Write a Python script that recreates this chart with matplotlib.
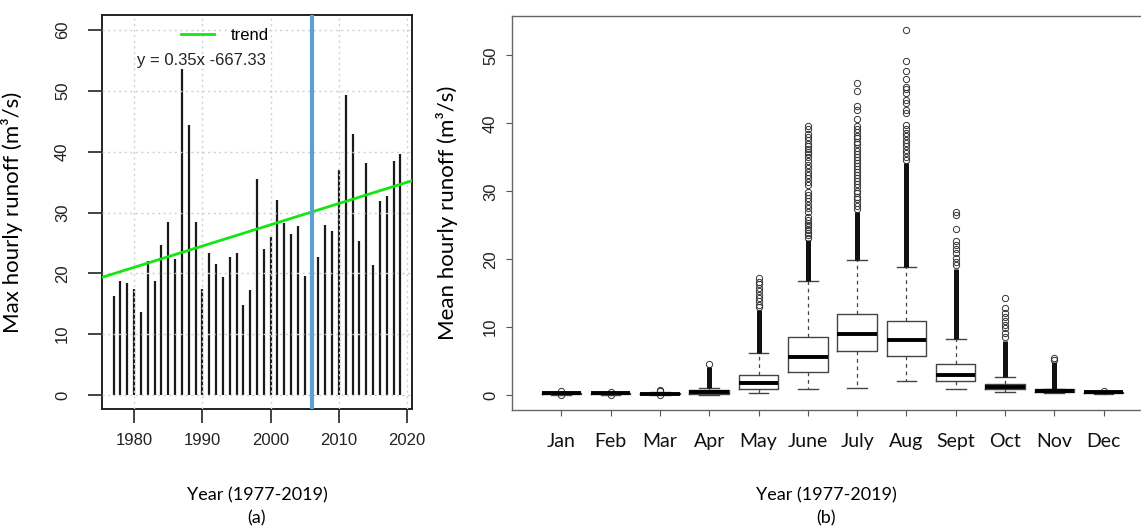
import matplotlib
matplotlib.use("Agg")
from matplotlib import pyplot as plt
from matplotlib.lines import Line2D

# ---- panel (a): annual max hourly runoff ----
years = list(range(1977, 2020))
max_runoff = [16.3, 18.75, 18.5, 17.4, 13.6, 22.0, 18.75, 24.6, 28.4, 22.3,
              53.6, 44.4, 28.5, 17.4, 23.3, 21.5, 19.4, 22.75, 23.3, 14.8,
              17.3, 35.6, 24.0, 26.0, 32.1, 28.3, 26.4, 27.8, 19.5, 27.4,
              22.7, 28.0, 26.9, 37.0, 49.3, 43.0, 25.3, 38.2, 21.4, 31.9,
              32.7, 38.5, 39.6]
trend_slope = 0.35
trend_intercept = -672.0
trend_text = "y = 0.35x -667.33"
change_year = 2006

# ---- panel (b): monthly mean hourly runoff boxplots ----
months = ["Jan", "Feb", "Mar", "Apr", "May", "June", "July", "Aug", "Sept", "Oct", "Nov", "Dec"]
q1 = [0.15, 0.15, 0.12, 0.15, 0.83, 3.34, 6.43, 5.70, 2.10, 0.88, 0.44, 0.30]
med = [0.25, 0.25, 0.20, 0.40, 1.72, 5.65, 9.00, 8.05, 3.00, 1.13, 0.64, 0.40]
q3 = [0.32, 0.32, 0.28, 0.70, 3.00, 8.60, 11.90, 10.95, 4.60, 1.57, 0.83, 0.50]
whislo = [0.08, 0.08, 0.05, 0.05, 0.25, 0.85, 1.00, 2.06, 0.83, 0.44, 0.30, 0.22]
whishi = [0.45, 0.45, 0.45, 1.08, 6.23, 16.84, 19.85, 18.80, 8.25, 2.60, 0.95, 0.62]
# upper end of the solid run of overlapping outliers (None = no solid run)
dense_top = [None, None, None, 4.2, 12.5, 22.8, 27.0, 34.1, 18.6, 7.9, 4.9, None]
fliers = [
    [0.02, 0.58],
    [0.02, 0.52],
    [0.0, 0.55, 0.8],
    [4.5],
    [12.9, 13.3, 13.8, 14.3, 14.8, 15.3, 15.8, 16.3, 16.7, 17.2],
    [23.1, 23.5, 23.9, 24.3, 24.7, 25.0, 25.4, 25.8, 26.2, 27.0, 27.5, 28.0,
     28.5, 29.0, 29.5, 29.9, 30.9, 31.4, 31.9, 32.4, 32.9, 33.4, 33.9, 34.4,
     35.1, 35.5, 35.8, 36.2, 36.6, 37.0, 37.5, 38.0, 38.5, 39.1, 39.6],
    [27.4, 27.9, 28.3, 28.8, 29.2, 29.7, 30.1, 30.6, 31.0, 31.5, 31.9, 32.4,
     32.8, 33.3, 33.7, 34.2, 34.6, 35.1, 35.5, 36.0, 36.4, 36.9, 37.3, 37.8,
     38.2, 38.7, 39.1, 39.6, 40.7, 42.0, 42.6, 44.8, 45.95],
    [34.6, 35.1, 35.6, 36.1, 36.6, 37.1, 37.6, 38.1, 38.6, 39.2, 39.7, 41.5,
     41.9, 43.0, 43.5, 44.4, 45.0, 45.3, 46.5, 47.7, 49.2, 53.7],
    [19.1, 19.6, 20.2, 20.9, 21.5, 22.1, 22.7, 24.5, 26.5, 26.9],
    [8.6, 9.1, 9.8, 10.3, 10.9, 11.5, 12.1, 12.8, 14.3],
    [5.2, 5.4],
    [0.65],
]

W, H = 1141, 527
fig = plt.figure(figsize=(W / 100, H / 100), dpi=100)

num_font = "Liberation Sans"
lbl_font = "Lato"


def px(x0, y_top, x1, y_bot):
    return [x0 / W, 1 - y_bot / H, (x1 - x0) / W, (y_bot - y_top) / H]


# ---------------- panel (a) ----------------
ax1 = fig.add_axes(px(102, 15, 412, 409))
ax1.set_xlim(1975.3, 2020.7)
ax1.set_ylim(-2.3, 62.5)
ax1.vlines(years, 0, max_runoff, color="#1a1a1a", lw=1.6, zorder=2)
ax1.set_xticks([1980, 1990, 2000, 2010, 2020])
ax1.set_yticks([0, 10, 20, 30, 40, 50, 60])
ax1.grid(True, color="#d0d0d0", linestyle=(0, (1.5, 2.5)), lw=1.0, zorder=2.5)
ax1.set_axisbelow(False)
x0, x1 = ax1.get_xlim()
ax1.plot([x0, x1], [trend_slope * x0 + trend_intercept, trend_slope * x1 + trend_intercept],
         color="#14e614", lw=2, zorder=4)
ax1.axvline(change_year, color="#5b9fd5", lw=3, zorder=5)
for s in ax1.spines.values():
    s.set_linewidth(1.4)
    s.set_color("#222222")
ax1.tick_params(axis="x", length=10, width=1.2, pad=7, labelsize=12, colors="#222222")
ax1.tick_params(axis="y", length=10, width=1.2, pad=13, labelsize=12, colors="#222222",
                labelrotation=90)
for lab in ax1.get_xticklabels() + ax1.get_yticklabels():
    lab.set_fontfamily(num_font)
for lab in ax1.get_yticklabels():
    lab.set_va("center")
ax1.set_ylabel("Max hourly runoff (m\u00b3/s)", fontsize=16, fontfamily=lbl_font)
ax1.yaxis.set_label_coords((23 - 102) / 310, 0.5)

ax1.legend(handles=[Line2D([], [], color="#14e614", lw=2)], labels=["trend"],
           loc="center", bbox_to_anchor=(225 / W, 1 - 35 / H), bbox_transform=fig.transFigure,
           frameon=False, handlelength=2.0, handletextpad=1.0,
           prop={"family": num_font, "size": 12})
fig.text(201 / W, 1 - 61 / H, trend_text, ha="center", va="center",
         fontsize=12, fontfamily=num_font, color="#222222")

fig.text(257 / W, 1 - 495 / H, "Year (1977-2019)", ha="center", va="center",
         fontsize=13, fontfamily=lbl_font)
fig.text(257 / W, 1 - 518 / H, "(a)", ha="center", va="center",
         fontsize=13, fontfamily=lbl_font)

# ---------------- panel (b) ----------------
ax2 = fig.add_axes(px(512, 16, 512 + 13 * 49.3, 410))
positions = list(range(1, len(months) + 1))
stats = []
for i in range(len(months)):
    stats.append({"med": med[i], "q1": q1[i], "q3": q3[i],
                  "whislo": whislo[i], "whishi": whishi[i], "fliers": fliers[i]})
ax2.bxp(stats, positions=positions, widths=0.8, showfliers=True,
        boxprops=dict(color="#444444", lw=1.0),
        medianprops=dict(color="black", lw=2.8),
        whiskerprops=dict(color="#444444", lw=0.9, linestyle=(0, (3, 3))),
        capprops=dict(color="#444444", lw=1.0),
        flierprops=dict(marker="o", markerfacecolor="none", markeredgecolor="#333333",
                        markersize=4.5, markeredgewidth=0.7))
band_x = [positions[i] for i in range(len(months)) if dense_top[i] is not None]
band_lo = [whishi[i] for i in range(len(months)) if dense_top[i] is not None]
band_hi = [dense_top[i] for i in range(len(months)) if dense_top[i] is not None]
ax2.vlines(band_x, band_lo, band_hi, color="#111111", lw=3.6, zorder=3)

ax2.set_xlim(0, 13)
ax2.set_ylim(-2.2, 55.8)
ax2.set_xticks(positions)
ax2.set_xticklabels(months)
ax2.set_yticks([0, 10, 20, 30, 40, 50])
for s in ax2.spines.values():
    s.set_linewidth(1.0)
    s.set_color("#666666")
ax2.spines["right"].set_visible(False)
ax2.tick_params(axis="x", length=4.5, width=0.8, pad=12, labelsize=14, colors="#555555",
                labelcolor="#111111")
ax2.tick_params(axis="y", length=4, width=0.8, pad=6, labelsize=12, colors="#555555",
                labelcolor="#222222", labelrotation=90)
for lab in ax2.get_xticklabels():
    lab.set_fontfamily(lbl_font)
for lab in ax2.get_yticklabels():
    lab.set_fontfamily(num_font)
    lab.set_va("center")
ax2.set_ylabel("Mean hourly runoff (m\u00b3/s)", fontsize=16, fontfamily=lbl_font)
ax2.yaxis.set_label_coords((458 - 512) / (13 * 49.3), 0.5)

fig.text(826 / W, 1 - 495 / H, "Year (1977-2019)", ha="center", va="center",
         fontsize=13, fontfamily=lbl_font)
fig.text(826 / W, 1 - 518 / H, "(b)", ha="center", va="center",
         fontsize=13, fontfamily=lbl_font)

fig.savefig("out.png", dpi=100)
